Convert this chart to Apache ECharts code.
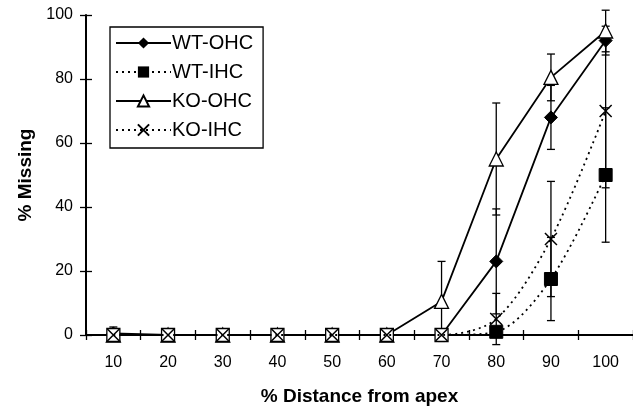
<!DOCTYPE html>
<html><head><meta charset="utf-8">
<script src="https://cdn.jsdelivr.net/npm/echarts@6/dist/echarts.min.js"></script>
<style>html,body{margin:0;padding:0;background:#fff}#c{width:633px;height:411px}</style>
</head><body><div id="c"></div>
<script>
const categories = ['10','20','30','40','50','60','70','80','90','100'];
const wtOHC   = [0.5, 0, 0, 0, 0, 0, 0, 23, 68, 92];
const wtOHCsd = [2, 0, 0, 0, 0, 0, 0, 16.4, 10, 4.5];
const wtIHC   = [0, 0, 0, 0, 0, 0, 0, 1, 17.5, 50];
const wtIHCsd = [0, 0, 0, 0, 0, 0, 0, 0, 13, 21];
const koOHC   = [0, 0, 0, 0, 0, 0, 10.5, 55, 80.5, 95];
const koOHCsd = [0, 0, 0, 0, 0, 0, 12.5, 17.5, 7.3, 6.5];
const koIHC   = [0, 0, 0, 0, 0, 0, 0, 5, 30, 70];
const koIHCsd = [0, 0, 0, 0, 0, 0, 0, 8, 18, 24];
const yTicks  = [0, 20, 40, 60, 80, 100];

const FONT = '"Liberation Sans", Arial, sans-serif';
const chart = echarts.init(document.getElementById('c'));

function errData(vals, sds) {
  const out = [];
  vals.forEach((v, i) => { if (sds[i] > 0) out.push([i, v - sds[i], v + sds[i]]); });
  return out;
}
function errSeries(vals, sds) {
  return {
    type: 'custom', silent: true, clip: false, z: 1,
    data: errData(vals, sds),
    encode: { x: 0, y: [1, 2] },
    renderItem: function (params, api) {
      const lo = api.coord([api.value(0), api.value(1)]);
      const hi = api.coord([api.value(0), api.value(2)]);
      const w = 4;
      const st = { stroke: '#000', lineWidth: 1.3 };
      return { type: 'group', children: [
        { type: 'line', shape: { x1: lo[0], y1: lo[1], x2: hi[0], y2: hi[1] }, style: st },
        { type: 'line', shape: { x1: lo[0] - w, y1: lo[1], x2: lo[0] + w, y2: lo[1] }, style: st },
        { type: 'line', shape: { x1: hi[0] - w, y1: hi[1], x2: hi[0] + w, y2: hi[1] }, style: st }
      ]};
    }
  };
}
const wtIHCdata = wtIHC.map((v, i) => (i < 7 ? { value: v, itemStyle: { color: '#fff', borderColor: '#000', borderWidth: 1.3 } } : v));
const tickStyle = { color: '#000', width: 1.3 };

chart.setOption({
  animation: false,
  backgroundColor: '#fff',
  grid: { left: 86, right: 0, top: 15, bottom: 74 },
  legend: {
    orient: 'vertical', left: 110, top: 27,
    backgroundColor: '#fff', borderColor: '#000', borderWidth: 1.3,
    padding: [6, 10, 8, 5], itemWidth: 55, itemHeight: 14, itemGap: 9,
    textStyle: { fontFamily: FONT, fontSize: 20, color: '#000', padding: [0, 0, 0, -4] },
    data: ['WT-OHC', 'WT-IHC', 'KO-OHC', 'KO-IHC']
  },
  xAxis: [{
    type: 'category', data: categories, boundaryGap: true,
    name: '% Distance from apex', nameLocation: 'middle', nameGap: 52,
    nameTextStyle: { fontFamily: FONT, fontSize: 19, fontWeight: 'bold', color: '#000' },
    axisLine: { lineStyle: { color: '#000', width: 2 } },
    axisTick: { show: true, length: 5, lineStyle: tickStyle },
    axisLabel: { fontFamily: FONT, fontSize: 16, color: '#000', margin: 20 },
    splitLine: { show: false }
  }, {
    type: 'category', data: categories, position: 'top',
    axisLine: { lineStyle: { color: '#000', width: 2 } },
    axisTick: { show: false }, axisLabel: { show: false }
  }, {
    type: 'category', data: categories, position: 'bottom', boundaryGap: true,
    axisLine: { show: false },
    axisTick: { show: true, inside: true, length: 5, lineStyle: tickStyle }, axisLabel: { show: false }
  }],
  yAxis: [{
    type: 'value', min: 0, max: 100, interval: 20,
    name: '% Missing', nameLocation: 'middle', nameGap: 51,
    nameTextStyle: { fontFamily: FONT, fontSize: 19, fontWeight: 'bold', color: '#000' },
    axisLine: { show: true, lineStyle: { color: '#000', width: 2 } },
    axisTick: { show: true, length: 6, lineStyle: tickStyle },
    axisLabel: { fontFamily: FONT, fontSize: 16, color: '#000', margin: 13,
      formatter: v => (yTicks.includes(v) ? String(v) : '') },
    splitLine: { show: false }
  }, {
    type: 'value', min: 0, max: 100, interval: 20, position: 'left',
    axisLine: { show: false },
    axisTick: { show: true, inside: true, length: 6, lineStyle: tickStyle },
    axisLabel: { show: false }, splitLine: { show: false }
  }],
  series: [
    errSeries(wtOHC, wtOHCsd), errSeries(wtIHC, wtIHCsd), errSeries(koOHC, koOHCsd), errSeries(koIHC, koIHCsd),
    { name: 'WT-OHC', type: 'line', data: wtOHC, z: 3, symbol: 'diamond', symbolSize: 13,
      lineStyle: { color: '#000', width: 1.8 }, itemStyle: { color: '#000', borderColor: '#000' } },
    { name: 'KO-OHC', type: 'line', data: koOHC, z: 4, symbol: 'triangle', symbolSize: 14,
      lineStyle: { color: '#000', width: 1.8 }, itemStyle: { color: '#fff', borderColor: '#000', borderWidth: 1.3 } },
    { name: 'WT-IHC', type: 'line', data: wtIHCdata, z: 5, symbol: 'rect', symbolSize: 13, smooth: 0.3,
      lineStyle: { color: '#000', width: 1.8, type: [2, 4] }, itemStyle: { color: '#000', borderColor: '#000' } },
    { name: 'KO-IHC', type: 'line', data: koIHC, z: 6, symbol: 'path://M0,0L10,10M0,10L10,0', symbolSize: 12, smooth: 0.3,
      lineStyle: { color: '#000', width: 1.8, type: [2, 4] }, itemStyle: { color: 'rgba(0,0,0,0)', borderColor: '#000', borderWidth: 1.5 } }
  ]
});
</script></body></html>
